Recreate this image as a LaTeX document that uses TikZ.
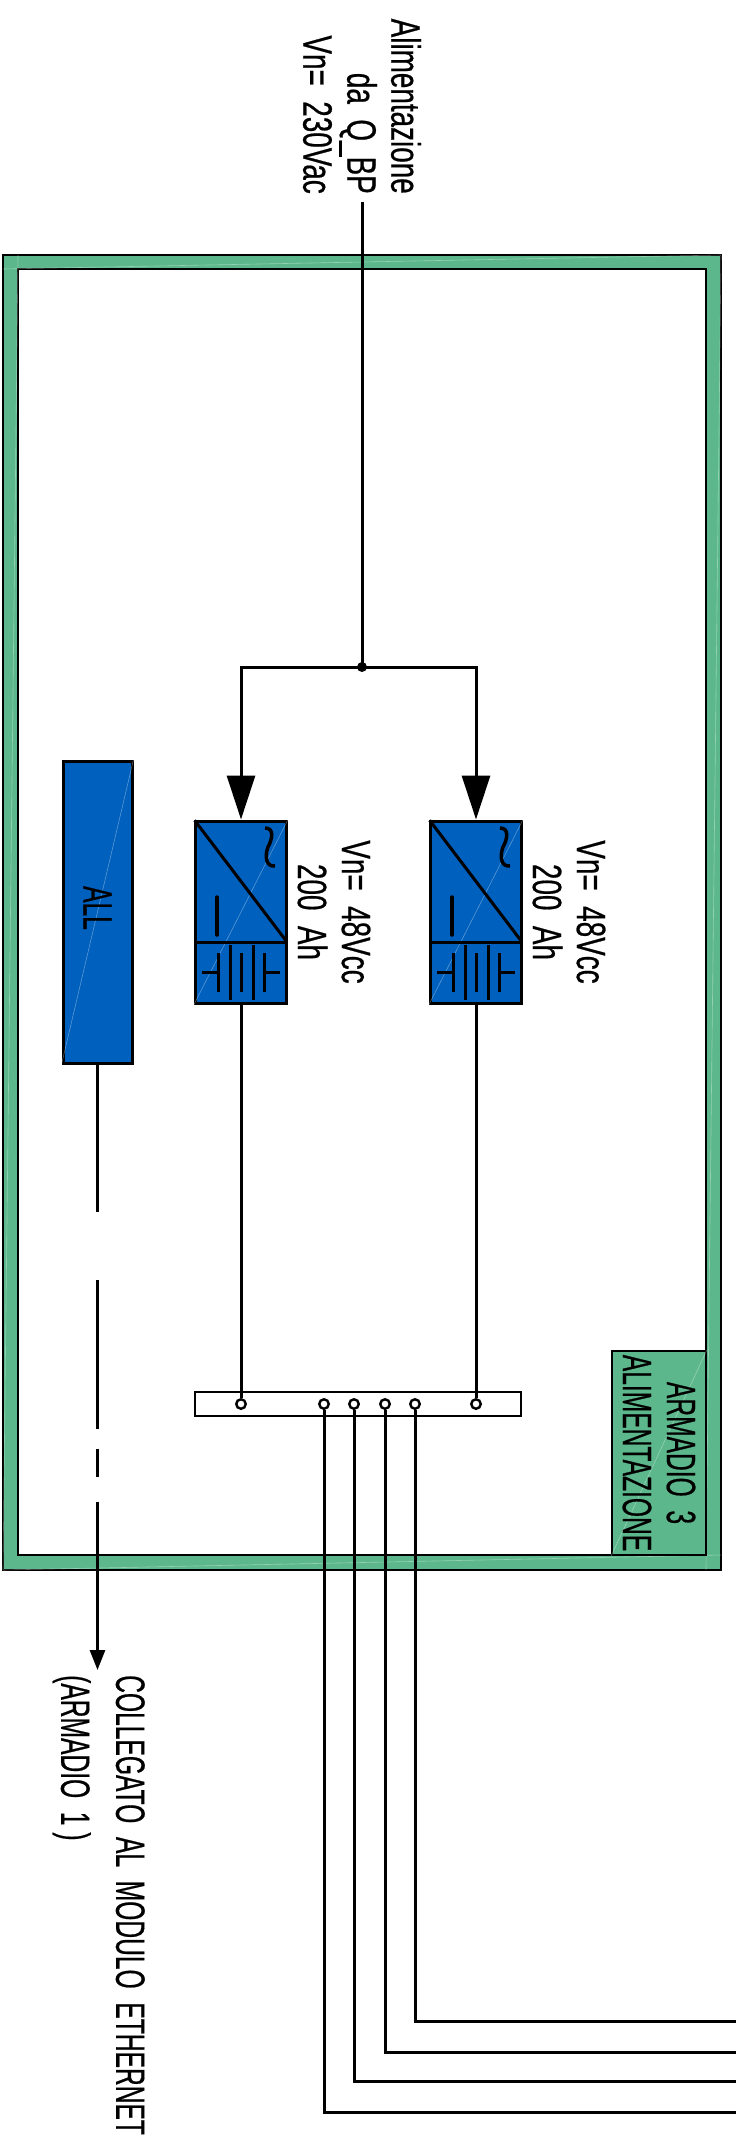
\documentclass[tikz,border=0pt]{standalone}
\usepackage{fontspec}
\setmainfont[FakeStretch=0.68,FakeBold=0.5]{Liberation Sans}
\newfontfamily\capsfont[FakeStretch=0.6,FakeBold=0.5]{Liberation Sans}
\usetikzlibrary{arrows.meta,calc,positioning}
\definecolor{armgreen}{RGB}{92,184,140}
\definecolor{upsblue}{RGB}{0,96,190}
\tikzstyle{wire} = [line width=3pt]
\tikzstyle{bigarrow} = [wire, -{Triangle[length=44pt,width=28pt]}]
\tikzstyle{smallarrow} = [wire, -{Triangle[length=20pt,width=15pt]}]
\tikzstyle{streak} = [draw=white, draw opacity=0.35, line width=0.6pt]
\begin{document}
\begin{tikzpicture}[x=1pt,y=-1pt]
\tikzset{bluebox/.style={draw=black,fill=upsblue,line width=3pt,inner sep=0pt},
port/.style={circle,draw=black,fill=white,line width=2.4pt,inner sep=0pt,minimum size=9.5pt},
dot/.style={circle,fill=black,inner sep=0pt,minimum size=10pt},
lbl/.style={rotate=-90,font=\fontsize{41}{44}\selectfont,inner sep=0pt},
caps/.style={lbl,font=\fontsize{41}{44}\selectfont\capsfont}}
\useasboundingbox (0,0) rectangle (736,2136);

\filldraw[fill=armgreen,draw=black,line width=1.5pt,even odd rule] (3,255) rectangle (721,1570) (18,269) rectangle (706,1555);
\draw[streak] (3,269) -- (721,255) (3,1570) -- (721,1555) (3,1570) -- (18,255) (706,1570) -- (721,255);
\node[draw=black,fill=armgreen,line width=1.5pt,minimum width=94pt,minimum height=204pt,inner sep=0pt] (tag) at (659,1453){};
\draw[streak] (tag.south west) -- (tag.north east);
\node[caps,align=center] (taglbl) at (659,1453){ARMADIO~~3\\ALIMENTAZIONE};

\node[lbl,align=right,anchor=east] (feedlbl) at (362,194){Alimentazione\\da~~Q\_BP\\Vn=~~230Vac};
\coordinate (feed) at (362,202);
\node[dot] (junct) at (362,667){};
\draw[wire] (feed) -- (junct.center);

\node[draw=black,line width=2.8pt,fill=white,minimum width=326pt,minimum height=24pt,inner sep=0pt] (bar) at (358,1404){};

\foreach \n/\dx in {1/0,2/235} {
\begin{scope}[xshift=\dx pt]
\node[bluebox,minimum width=91pt,minimum height=182pt] (ups\n) at (241,912){};
\draw[streak] (ups\n.south west) -- (ups\n.north east);
\draw[line width=3pt,shorten <=1pt] (ups\n.north west) -- (287,942);
\draw[wire] (196,942) -- (287,942);
\draw[line width=3.5pt,line cap=round] (217,897) -- (217,935);
\draw[line width=3.5pt] (265,828) .. controls (275,828) and (272,840) .. (268,847) .. controls (264,858) and (267,867) .. (275,866);
\draw[line width=3pt] (202,972) -- (218,972) (218,953) -- (218,992);
\draw[wire] (230,945) -- (230,1000) (253,945) -- (253,1000);
\draw[line width=3pt] (241,953) -- (241,992) (264,953) -- (264,992) (264,972) -- (280,972);
\node[lbl,align=center] (ups\n lbl) at (334,912){Vn=~~48Vcc\\200~~Ah};
\node[port] (pu\n) at (241,1404){};
\end{scope}
\draw[wire] (ups\n.south) -- (pu\n);
}
\draw[bigarrow] (junct.center) -| (ups1.north);
\draw[bigarrow] (junct.center) -| (ups2.north);

\foreach \x/\y[count=\i] in {324/2112,354/2081,385/2052,415/2021} {
\node[port] (p\i) at (\x,1404){};
\coordinate (e\i) at (736,\y);
\draw[wire] (p\i) |- (e\i); }

\node[bluebox,minimum width=69pt,minimum height=302pt] (all) at (97.5,912){};
\draw[streak] (all.south west) -- (all.north east);
\node[caps] (alllbl) at (97.5,908){ALL};
\coordinate (allend) at (97.5,1670);
\draw[smallarrow,dash pattern=on 147pt off 68pt on 149pt off 20pt on 28pt off 25pt on 200pt] (all.south) -- (allend);
\node[caps,align=left,anchor=north west] (alllink) at (145,1675){COLLEGATO~~AL~~MODULO~~ETHERNET\\[11pt](ARMADIO~~1~)};
\end{tikzpicture}
\end{document}
